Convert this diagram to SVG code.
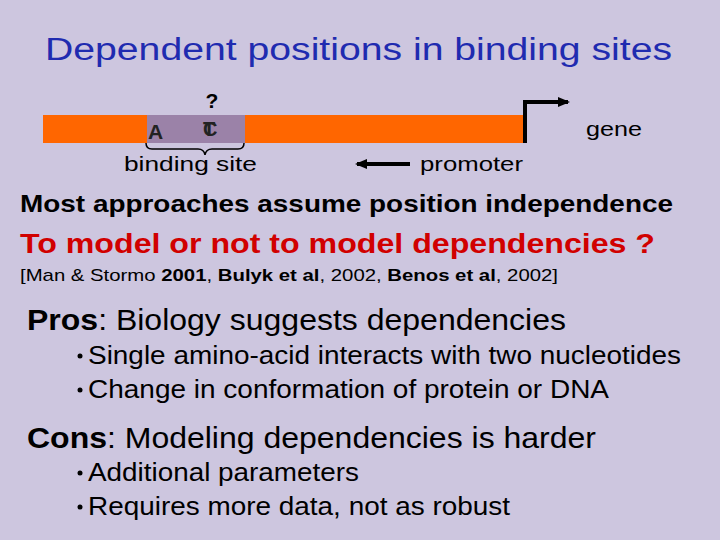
<svg xmlns="http://www.w3.org/2000/svg" width="720" height="540" viewBox="0 0 720 540">
<style>text{font-family:"Liberation Sans",Arial,sans-serif;fill:#000}.b{font-weight:bold}</style>
<defs><marker id="ah" markerWidth="6" markerHeight="6" refX="5" refY="3" orient="auto" markerUnits="userSpaceOnUse"><path d="M0,0L6,3L0,6z" fill="#000"/></marker>
<marker id="ah2" markerWidth="12" markerHeight="10" refX="10" refY="5" orient="auto" markerUnits="userSpaceOnUse"><path d="M0,0L12,5L0,10z" fill="#000"/></marker></defs>
<rect width="720" height="540" fill="#cdc6df"/>
<text x="45" y="60" font-size="31" textLength="627" lengthAdjust="spacingAndGlyphs" style="fill:#1f2bb0">Dependent positions in binding sites</text>
<g id="dna">
<rect x="43" y="115" width="480" height="28" fill="#ff6600"/>
<rect x="147" y="115" width="98" height="28" fill="#9b82a8"/>
<text x="148" y="139" class="b" font-size="21" style="fill:#222">A</text>
<text x="203" y="136" class="b" font-size="20" style="fill:#222">T</text>
<text x="203" y="136" class="b" font-size="20" style="fill:#222">C</text>
<text x="212" y="108" class="b" font-size="21" text-anchor="middle">?</text>
<path d="M146,143q0,6 6,6h46q6,0 7,6q1,-6 7,-6h26q6,0 6,-6" fill="none" stroke="#000" stroke-width="1.5"/>
<text x="124" y="171" font-size="21" textLength="133" lengthAdjust="spacingAndGlyphs">binding site</text>
</g>
<g id="connectors">
<path d="M525,143V102H568" fill="none" stroke="#000" stroke-width="4" marker-end="url(#ah2)"/>
<path d="M410,164H357" fill="none" stroke="#000" stroke-width="4" marker-end="url(#ah2)"/>
</g>
<text x="586" y="136" font-size="21" textLength="56" lengthAdjust="spacingAndGlyphs">gene</text>
<text x="420" y="171" font-size="21" textLength="103" lengthAdjust="spacingAndGlyphs">promoter</text>
<text x="20" y="212" class="b" font-size="24" textLength="653" lengthAdjust="spacingAndGlyphs">Most approaches assume position independence</text>
<text x="20" y="253" class="b" font-size="27" textLength="635" lengthAdjust="spacingAndGlyphs" style="fill:#d10000">To model or not to model dependencies ?</text>
<text x="20" y="281" font-size="17" textLength="538" lengthAdjust="spacingAndGlyphs">[Man &amp; Stormo <tspan class="b">2001</tspan>, <tspan class="b">Bulyk et al</tspan>, 2002, <tspan class="b">Benos et al</tspan>, 2002]</text>
<text x="27" y="330" font-size="29" textLength="539" lengthAdjust="spacingAndGlyphs"><tspan class="b">Pros</tspan>: Biology suggests dependencies</text>
<text x="88" y="364" font-size="25" textLength="593" lengthAdjust="spacingAndGlyphs">Single amino-acid interacts with two nucleotides</text>
<text x="88" y="398" font-size="25" textLength="521" lengthAdjust="spacingAndGlyphs">Change in conformation of protein or DNA</text>
<text x="27" y="448" font-size="29" textLength="569" lengthAdjust="spacingAndGlyphs"><tspan class="b">Cons</tspan>: Modeling dependencies is harder</text>
<text x="88" y="481" font-size="25" textLength="271" lengthAdjust="spacingAndGlyphs">Additional parameters</text>
<text x="88" y="515" font-size="25" textLength="422" lengthAdjust="spacingAndGlyphs">Requires more data, not as robust</text>
<g fill="#000"><circle cx="80" cy="356" r="2.5"/><circle cx="80" cy="390" r="2.5"/><circle cx="80" cy="473" r="2.5"/><circle cx="80" cy="507" r="2.5"/></g>
</svg>
